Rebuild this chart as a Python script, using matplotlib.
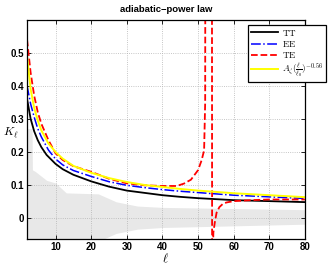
import matplotlib
matplotlib.use("Agg")
import matplotlib.pyplot as plt

plt.rcParams["mathtext.fontset"] = "cm"
plt.rcParams["font.family"] = ["Liberation Sans", "DejaVu Sans"]

# values
ell_tt = [2, 3, 4, 5, 6, 7.5, 10, 12, 15, 20, 25, 30, 35, 40, 45, 50, 55, 60, 70, 80]
k_tt = [0.36, 0.30, 0.262, 0.235, 0.214, 0.19, 0.163, 0.147, 0.130, 0.110, 0.094,
        0.082, 0.075, 0.068, 0.063, 0.059, 0.056, 0.053, 0.050, 0.047]

ell_ee = [2, 3, 4, 5, 6, 8, 10, 12, 15, 20, 25, 30, 35, 40, 45, 50, 60, 70, 80]
k_ee = [0.40, 0.345, 0.305, 0.27, 0.245, 0.205, 0.178, 0.160, 0.143, 0.125, 0.109,
        0.098, 0.091, 0.085, 0.080, 0.076, 0.068, 0.063, 0.058]

ell_te = [2, 3, 4, 5, 6, 8, 10, 12, 15, 20, 25, 30, 35, 40, 44, 46, 48, 50, 51, 51.7,
          52.0, 52.15, 53.85, 53.95, 54.3, 54.7, 55.2, 56, 57, 58, 60, 65, 70, 80]
k_te = [0.54, 0.44, 0.37, 0.32, 0.285, 0.235, 0.195, 0.175, 0.156, 0.139, 0.118,
        0.104, 0.098, 0.096, 0.096, 0.103, 0.115, 0.144, 0.174, 0.204,
        0.35, 2.0, 2.0, -0.2, -0.045, -0.015, 0.015, 0.032, 0.042, 0.046, 0.050,
        0.053, 0.055, 0.055]

ell_pl = [2, 3, 4, 5, 6, 8, 10, 12, 15, 20, 25, 30, 35, 40, 45, 50, 60, 70, 80]
k_pl = [0.49, 0.39, 0.333, 0.295, 0.265, 0.225, 0.199, 0.179, 0.157, 0.136, 0.120,
        0.108, 0.099, 0.093, 0.087, 0.082, 0.074, 0.068, 0.062]

ell_band = [2, 3.4, 3.5, 4.3, 7.5, 10, 13, 22, 27, 33, 40, 80]
band_hi = [0.27, 0.27, 0.145, 0.14, 0.113, 0.105, 0.075, 0.072, 0.048, 0.035, 0.031, 0.024]
band_lo = [-0.27, -0.27, -0.145, -0.14, -0.113, -0.105, -0.075, -0.072, -0.048, -0.035, -0.030, -0.020]

xticks = [10, 20, 30, 40, 50, 60, 70, 80]
yticks = [0, 0.1, 0.2, 0.3, 0.4, 0.5]
ytick_labels = ["0", "0.1", "0.2", "0.3", "0.4", "0.5"]

fig = plt.figure(figsize=(3.3, 2.65), dpi=100)
ax = fig.add_axes([0.082, 0.098, 0.842, 0.827])

ax.fill_between(ell_band, band_lo, band_hi, color="0.91", lw=0)
ax.plot(ell_tt, k_tt, color="k", lw=1.3, label=r"$\mathrm{TT}$")
ax.plot(ell_ee, k_ee, color="#0000ff", lw=1.1, ls="-.", label=r"$\mathrm{EE}$")
ax.plot(ell_te, k_te, color="r", lw=1.3, ls="--", label=r"$\mathrm{TE}$")
ax.plot(ell_pl, k_pl, color="#ffff00", lw=1.4,
        label=r"$A_\zeta(\frac{\ell}{\ell_0})^{-0.56}$")

ax.set_xlim(2, 80)
ax.set_ylim(-0.065, 0.6)
ax.set_xticks(xticks)
ax.set_yticks(yticks)
ax.set_yticklabels(ytick_labels)
ax.tick_params(direction="in", length=3, width=0.6, labelsize=7, pad=2,
               top=True, right=True)
for lab in ax.get_xticklabels() + ax.get_yticklabels():
    lab.set_fontweight("bold")
ax.grid(True, ls=":", color="0.7", lw=0.6)
for s in ax.spines.values():
    s.set_linewidth(0.9)

ax.set_title("adiabatic\u2212power law", fontsize=6.8, fontweight="bold", pad=6)
ax.set_xlabel(r"$\ell$", fontsize=9, labelpad=0)
ax.set_ylabel(r"$K_\ell$", fontsize=8.5, rotation=0)
ax.yaxis.set_label_coords(-0.058, 0.45)

leg = ax.legend(loc="upper right", bbox_to_anchor=(0.988, 0.906),
                bbox_transform=fig.transFigure, fontsize=6.5, frameon=True,
                fancybox=False, edgecolor="k", handlelength=3.0,
                borderpad=0.3, labelspacing=0.15, handletextpad=0.4,
                borderaxespad=0)
leg.get_frame().set_linewidth(0.9)
leg.get_frame().set_alpha(1)

fig.savefig("out.png", dpi=100)
